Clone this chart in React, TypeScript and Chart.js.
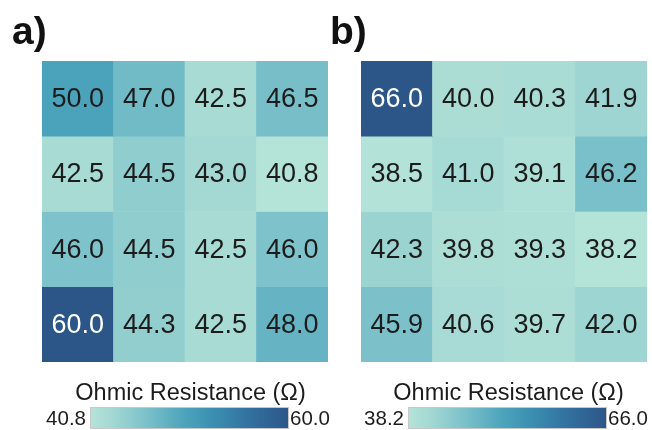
import React, { useEffect, useRef } from "react";
import { Chart, registerables } from "chart.js";

Chart.register(...registerables);

const columns = ["C1", "C2", "C3", "C4"];

const valuesA: number[][] = [
  [50.0, 47.0, 42.5, 46.5],
  [42.5, 44.5, 43.0, 40.8],
  [46.0, 44.5, 42.5, 46.0],
  [60.0, 44.3, 42.5, 48.0],
];

const valuesB: number[][] = [
  [66.0, 40.0, 40.3, 41.9],
  [38.5, 41.0, 39.1, 46.2],
  [42.3, 39.8, 39.3, 38.2],
  [45.9, 40.6, 39.7, 42.0],
];

const rangeA = [40.8, 60.0];
const rangeB = [38.2, 66.0];
const panelLabels = ["a)", "b)"];
const colorbarTitle = "Ohmic Resistance (Ω)";

const cmapStops: [number, string][] = [
  [0.0, "#b4e3d8"],
  [0.1, "#a6dad4"],
  [0.3, "#77bec9"],
  [0.48, "#4ba3bb"],
  [0.62, "#3b8fb1"],
  [0.8, "#3271a0"],
  [1.0, "#2c5688"],
];

function hexToRgb(h: string) {
  const n = parseInt(h.slice(1), 16);
  return [(n >> 16) & 255, (n >> 8) & 255, n & 255];
}

function cmap(t: number) {
  t = Math.max(0, Math.min(1, t));
  for (let i = 1; i < cmapStops.length; i++) {
    const [t1, c1] = cmapStops[i];
    const [t0, c0] = cmapStops[i - 1];
    if (t <= t1) {
      const f = (t - t0) / (t1 - t0);
      const a = hexToRgb(c0);
      const b = hexToRgb(c1);
      const r = a.map((v, k) => Math.round(v + (b[k] - v) * f));
      return `rgb(${r[0]},${r[1]},${r[2]})`;
    }
  }
  return cmapStops[cmapStops.length - 1][1];
}

const FONT = "'Liberation Sans', Arial, sans-serif";

type Panel = {
  values: number[][];
  range: number[];
  label: string;
  area: { left: number; right: number; top: number; bottom: number };
  bar: { left: number; right: number; top: number; bottom: number };
  labelX: number;
};

const panels: Panel[] = [
  {
    values: valuesA,
    range: rangeA,
    label: panelLabels[0],
    area: { left: 42, right: 328, top: 61, bottom: 362 },
    bar: { left: 90, right: 289, top: 407, bottom: 429 },
    labelX: 12,
  },
  {
    values: valuesB,
    range: rangeB,
    label: panelLabels[1],
    area: { left: 361, right: 647, top: 61, bottom: 362 },
    bar: { left: 408, right: 607, top: 407, bottom: 429 },
    labelX: 330,
  },
];

const W = 652;
const H = 430;

function makeChart(canvas: HTMLCanvasElement, p: Panel) {
  const [lo, hi] = p.range;
  const norm = (v: number) => (v - lo) / (hi - lo);
  const datasets = p.values.map((row, r) => ({
    label: "row" + r,
    data: row.map(() => [r, r + 1] as [number, number]),
    backgroundColor: row.map((v) => cmap(norm(v))),
    borderWidth: 0,
    grouped: false,
    barPercentage: 1,
    categoryPercentage: 1,
  }));

  const overlay = {
    id: "overlay" + p.label,
    afterDatasetsDraw(chart: any) {
      const ctx = chart.ctx;
      ctx.save();
      // cell values
      ctx.font = `27px ${FONT}`;
      ctx.textAlign = "center";
      ctx.textBaseline = "middle";
      p.values.forEach((row, r) => {
        const meta = chart.getDatasetMeta(r);
        row.forEach((v, c) => {
          const el: any = meta.data[c];
          const cy = (el.y + el.base) / 2;
          ctx.fillStyle = norm(v) > 0.8 ? "#ffffff" : "#1c1c1c";
          ctx.fillText(v.toFixed(1), el.x, cy + 1);
        });
      });
      // panel label
      ctx.font = `bold 39px ${FONT}`;
      ctx.textAlign = "left";
      ctx.textBaseline = "alphabetic";
      ctx.fillStyle = "#111111";
      ctx.fillText(p.label, p.labelX, 44);
      // colorbar
      const b = p.bar;
      const g = ctx.createLinearGradient(b.left, 0, b.right, 0);
      for (let i = 0; i <= 40; i++) g.addColorStop(i / 40, cmap(i / 40));
      ctx.fillStyle = g;
      ctx.fillRect(b.left, b.top, b.right - b.left, b.bottom - b.top);
      ctx.strokeStyle = "#c8c8c8";
      ctx.lineWidth = 1;
      ctx.strokeRect(b.left + 0.5, b.top + 0.5, b.right - b.left - 1, b.bottom - b.top - 1);
      ctx.fillStyle = "#1c1c1c";
      ctx.font = `23.5px ${FONT}`;
      ctx.textAlign = "center";
      ctx.fillText(colorbarTitle, (b.left + b.right) / 2 + 1, 400);
      ctx.font = `20.5px ${FONT}`;
      ctx.textAlign = "right";
      ctx.fillText(lo.toFixed(1), b.left - 4, 425);
      ctx.textAlign = "left";
      ctx.fillText(hi.toFixed(1), b.right + 1, 425);
      ctx.restore();
    },
  };

  return new Chart(canvas, {
    type: "bar",
    data: { labels: columns, datasets: datasets as any },
    options: {
      responsive: false,
      animation: false,
      events: [],
      layout: {
        padding: {
          left: p.area.left,
          right: W - p.area.right,
          top: p.area.top,
          bottom: H - p.area.bottom,
        },
      },
      plugins: { legend: { display: false }, tooltip: { enabled: false }, title: { display: false } },
      scales: {
        x: { display: false, offset: true, grid: { display: false } },
        y: { display: false, min: 0, max: 4, reverse: true, grid: { display: false } },
      },
    } as any,
    plugins: [overlay],
  });
}

export default function App() {
  const refA = useRef<HTMLCanvasElement>(null);
  const refB = useRef<HTMLCanvasElement>(null);
  useEffect(() => {
    const charts = [makeChart(refA.current!, panels[0]), makeChart(refB.current!, panels[1])];
    return () => charts.forEach((c) => c.destroy());
  }, []);
  const cs: React.CSSProperties = { position: "absolute", left: 0, top: 0, width: W, height: H };
  return (
    <div style={{ position: "fixed", left: 0, top: 0, width: W, height: H, background: "#fff" }}>
      <canvas ref={refA} width={W} height={H} style={cs} />
      <canvas ref={refB} width={W} height={H} style={cs} />
    </div>
  );
}
